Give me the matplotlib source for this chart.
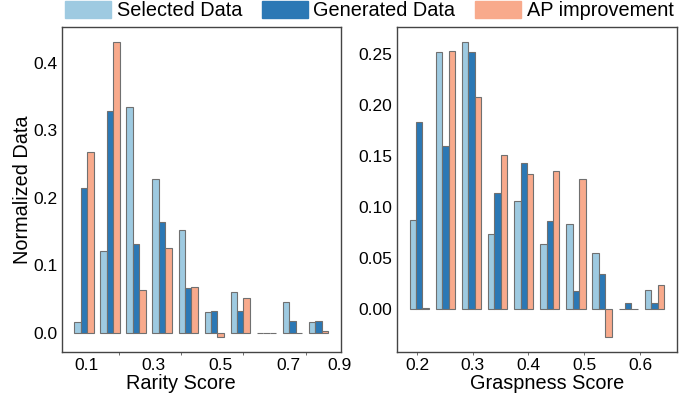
import matplotlib
matplotlib.use("Agg")
import matplotlib.pyplot as plt
import matplotlib.patches as mpatches
import numpy as np

plt.rcParams['font.family'] = ['Liberation Sans', 'DejaVu Sans']

# data (10 score bins per panel)
series_names = ["Selected Data", "Generated Data", "AP improvement"]
colors = ["#9ecae1", "#2b78b5", "#f8aa8c"]

rarity_selected = [0.016, 0.122, 0.335, 0.228, 0.153, 0.031, 0.061, 0.0, 0.046, 0.016]
rarity_generated = [0.214, 0.329, 0.132, 0.164, 0.066, 0.033, 0.033, 0.0, 0.017, 0.017]
rarity_ap = [0.268, 0.431, 0.063, 0.126, 0.068, -0.0064, 0.052, 0.0, 0.0, 0.003]
rarity_ticklabels = ["0.1", "0.3", "0.5", "0.7", "0.9"]

grasp_selected = [0.087, 0.252, 0.262, 0.073, 0.106, 0.064, 0.083, 0.055, 0.0, 0.018]
grasp_generated = [0.183, 0.160, 0.252, 0.114, 0.143, 0.086, 0.017, 0.034, 0.006, 0.006]
grasp_ap = [0.001, 0.253, 0.208, 0.151, 0.132, 0.135, 0.127, -0.028, 0.0, 0.023]
grasp_ticklabels = ["0.2", "0.3", "0.4", "0.5", "0.6"]


def draw_panel(ax, values, xlabel, label_pos, label_txt, mark_pos=None):
    x = np.arange(len(values[0]))
    w = 0.246
    for k, (vals, c) in enumerate(zip(values, colors)):
        ax.bar(x + (k - 1) * w, vals, width=w, color=c,
               edgecolor="#707070", linewidth=0.8)
    ax.set_xlim(-0.84, 9.86)
    ax.set_xticks(label_pos)
    ax.set_xticklabels(label_txt)
    ax.set_xlabel(xlabel, fontsize=14.3, labelpad=2)
    ax.tick_params(axis="both", labelsize=12.5)
    ax.tick_params(axis="y", length=0, pad=3.5)
    if mark_pos is not None:
        ax.tick_params(axis="x", length=0, pad=4)
        ax.set_xticks(mark_pos, minor=True)
        ax.tick_params(axis="x", which="minor", length=2.5, width=0.6, color="#555555")
    else:
        ax.tick_params(axis="x", length=2.5, width=0.6, color="#555555", pad=2)
    for s in ax.spines.values():
        s.set_color("#444444")
        s.set_linewidth(1.0)


fig = plt.figure(figsize=(6.97, 3.96), dpi=100)
ax1 = fig.add_axes([0.089, 0.111, 0.400, 0.821])
ax2 = fig.add_axes([0.570, 0.111, 0.401, 0.821])

draw_panel(ax1, [rarity_selected, rarity_generated, rarity_ap], "Rarity Score",
           [0.09, 2.67, 5.25, 7.84, 9.82], rarity_ticklabels,
           mark_pos=[1.35, 3.73, 6.1, 8.52])
ax1.set_yticks([0.0, 0.1, 0.2, 0.3, 0.4])
ax1.set_ylabel("Normalized Data", fontsize=14.3, labelpad=1)
ax1.xaxis.set_label_coords(0.428, -0.068)

draw_panel(ax2, [grasp_selected, grasp_generated, grasp_ap], "Graspness Score",
           [-0.08, 2.05, 4.18, 6.31, 8.45], grasp_ticklabels)
ax2.set_yticks([0.0, 0.05, 0.10, 0.15, 0.20, 0.25])
ax2.set_yticklabels(["0.00", "0.05", "0.10", "0.15", "0.20", "0.25"])
ax2.xaxis.set_label_coords(0.535, -0.068)

handles = [mpatches.Patch(color=c, label=n) for c, n in zip(colors, series_names)]
fig.legend(handles=handles, loc="upper center", bbox_to_anchor=(0.530, 1.0),
           ncol=3, frameon=False, fontsize=14.3, handlelength=2.3,
           handleheight=0.95, handletextpad=0.29, columnspacing=1.0,
           borderpad=0.05, borderaxespad=0)

fig.savefig("out.png", dpi=100)
